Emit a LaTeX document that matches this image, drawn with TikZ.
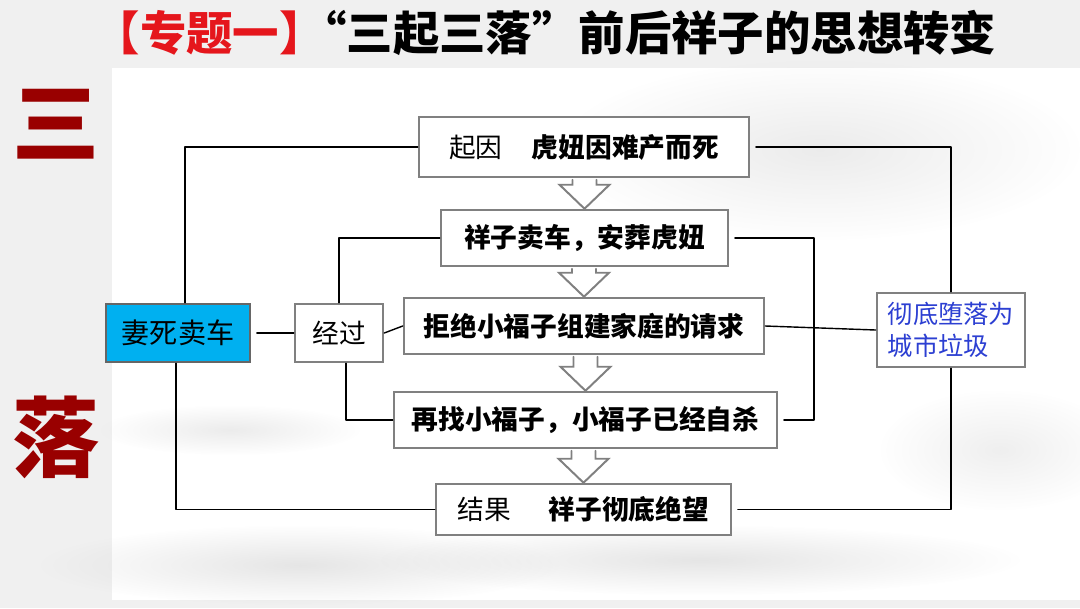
\documentclass[tikz,border=0pt]{standalone}
\usepackage{fontspec}
\setmainfont{Noto Sans CJK SC}
\usepackage{xcolor}
\usetikzlibrary{calc,fadings}
\definecolor{titlered}{HTML}{E5161C}
\definecolor{darkred}{HTML}{990000}
\definecolor{skyblue}{HTML}{00B0F0}
\definecolor{inkblue}{HTML}{2C3FD2}
\tikzfading[name=softblob, inner color=transparent!0, outer color=transparent!100]
\tikzset{
  every picture/.style={line join=round, line cap=round},
  box/.style={draw=black!50, line width=1.8pt, fill=white, inner sep=0pt, line join=miter,
    font=\fontsize{19}{23}\selectfont},
  link/.style={line width=1pt, black},
  hollow/.style={draw=black!50, line width=1.4pt, fill=white, line join=miter},
  wash/.style={fill=black!25, path fading=softblob},
}

\begin{document}
\begin{tikzpicture}[x=0.025cm,y=-0.025cm]
\useasboundingbox (0,0) rectangle (1080,608);
\fill[black!6] (0,0) rectangle (1080,608);
\fill[white] (112,68) rectangle (1080,600);
\fill[wash, opacity=.3] (820,150) ellipse (260 and 90);
\fill[wash, opacity=.4] (300,565) ellipse (260 and 40);
\fill[wash, opacity=.4] (700,560) ellipse (320 and 35);
\fill[wash, opacity=.3] (230,430) ellipse (130 and 25);
\fill[wash, opacity=.25] (1000,450) ellipse (120 and 60);

\node[font=\fontsize{33}{38}\selectfont\bfseries] (title) at (545,33)
  {\textcolor{titlered}{【专题一】}\hspace{-0.55em}“三起三落”前后祥子的思想转变};
\node[text=darkred, font=\fontsize{62}{62}\selectfont\bfseries] (san) at (56,124) {三};
\node[text=darkred, font=\fontsize{62}{62}\selectfont\bfseries] (luo) at (56,437) {落};

\node[box, minimum width=8.25cm, minimum height=1.5cm] (qiyin) at (584,147)
  {起因\hspace{1.1em}\textbf{虎妞因难产而死}};
\node[box, minimum width=7.175cm, minimum height=1.4cm] (maiche) at (584.5,238)
  {\textbf{祥子卖车，安葬虎妞}};
\node[box, minimum width=9cm, minimum height=1.4cm] (jujue) at (584,326)
  {\textbf{拒绝小福子组建家庭的请求}};
\node[box, minimum width=9.575cm, minimum height=1.4cm] (zaizhao) at (585.5,420)
  {\textbf{再找小福子，小福子已经自杀}};
\node[box, minimum width=7.375cm, minimum height=1.275cm] (jieguo) at (583.5,509.5)
  {结果\hspace{1.4em}\textbf{祥子彻底绝望}};
\node[box, fill=skyblue, draw=black!60, minimum width=3.6cm, minimum height=1.45cm,
  font=\fontsize{20}{24}\selectfont] (qisi) at (178,333) {妻死卖车};
\node[box, minimum width=2.2cm, minimum height=1.45cm] (jingguo) at (339,333) {经过};
\node[box, minimum width=3.7cm, minimum height=1.85cm, align=left, text=inkblue,
  font=\fontsize{18}{23}\selectfont] (duoluo) at (951,330) {彻底堕落为\\城市垃圾};

\foreach \a/\b in {qiyin/maiche,maiche/jujue,jujue/zaizhao,zaizhao/jieguo}
  \draw[hollow] ($(\a.south -| \b.north)+(-12,1.5)$) -- ($(\b.north)+(-12,-24)$)
    -- ($(\b.north)+(-25,-24)$) -- (\b.north) -- ($(\b.north)+(25,-24)$)
    -- ($(\b.north)+(12,-24)$) -- ($(\a.south -| \b.north)+(12,1.5)$);

\coordinate (rjoin) at (814,420);
\draw[link] (qiyin.west) -| ($(qisi.north)+(7,0)$);
\draw[link, shorten <=4pt] (qiyin.east) -| (duoluo.north);
\draw[link] (maiche.west) -| (jingguo.north);
\draw[link, shorten <=4pt, shorten >=4pt] (maiche.east) -| (rjoin) -- (zaizhao.east);
\draw[link] (jujue.east) -- (duoluo.west);
\draw[link] (jingguo.east) -- (jujue.west);
\draw[link, shorten <=4pt] (qisi.east) -- (jingguo.west);
\draw[link] ($(jingguo.south)+(7,0)$) |- (zaizhao.west);
\draw[link] ($(qisi.south)+(-2,0)$) |- (jieguo.west);
\draw[link, shorten <=4pt] (jieguo.east) -| (duoluo.south);
\end{tikzpicture}
\end{document}
